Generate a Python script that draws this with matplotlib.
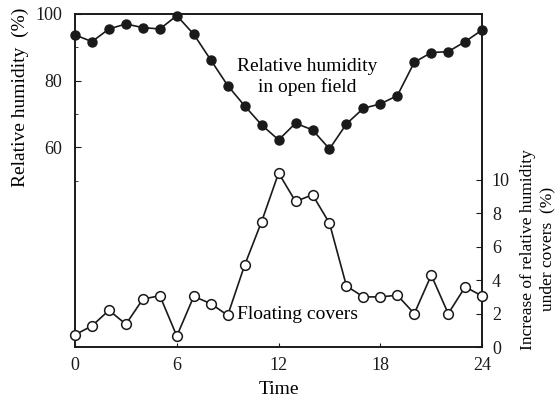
import matplotlib
matplotlib.use("Agg")
import matplotlib.pyplot as plt
from matplotlib.ticker import FixedLocator

plt.rcParams['font.family'] = ['Liberation Serif', 'DejaVu Serif']

hours = list(range(25))
rh_open = [93.7, 91.7, 95.5, 97.0, 95.9, 95.5, 99.5, 93.9, 86.2, 78.5, 72.4, 66.7, 62.2,
           67.2, 65.2, 59.5, 67.0, 71.7, 73.0, 75.5, 85.5, 88.4, 88.7, 91.7, 95.2]
rh_increase = [0.74, 1.27, 2.2, 1.37, 2.87, 3.07, 0.66, 3.03, 2.6, 1.9, 4.9, 7.5, 10.4,
               8.7, 9.1, 7.4, 3.65, 3.0, 3.0, 3.1, 2.0, 4.3, 2.0, 3.6, 3.05]
x_ticks = [0, 6, 12, 18, 24]
left_ticks = [60, 80, 100]
right_ticks = [0, 2, 4, 6, 8, 10]

fs_tick = 13
fs_text = 14
fig = plt.figure(figsize=(5.6, 3.99), dpi=100)
ax = fig.add_axes([0.134, 0.130, 0.727, 0.835])
ax2 = ax.twinx()

ax.plot(hours, rh_open, '-', color='#1a1a1a', lw=1.2, marker='o', ms=6.5,
        mfc='#1a1a1a', mec='#1a1a1a', clip_on=False, zorder=3)
ax2.plot(hours, rh_increase, '-', color='#1a1a1a', lw=1.2, marker='o', ms=7,
         mfc='white', mec='#1a1a1a', mew=1.1, clip_on=False, zorder=3)

ax.set_xlim(0, 24)
ax.set_ylim(0, 100)
ax2.set_ylim(0, 19.9)

ax.xaxis.set_major_locator(FixedLocator(x_ticks))
ax.yaxis.set_major_locator(FixedLocator(left_ticks))
ax.yaxis.set_minor_locator(FixedLocator([50, 70, 90]))
ax2.yaxis.set_major_locator(FixedLocator(right_ticks))

for a in (ax, ax2):
    for s in a.spines.values():
        s.set_linewidth(1.2)
        s.set_color('#1a1a1a')
ax.tick_params(axis='both', which='both', direction='in', labelsize=fs_tick, colors='#1a1a1a')
ax.tick_params(axis='x', length=3, pad=7)
ax.tick_params(axis='y', which='major', length=4, pad=9)
ax.tick_params(axis='y', which='minor', length=2.5)
ax2.tick_params(axis='y', direction='in', length=4, labelsize=fs_tick, pad=7, colors='#1a1a1a')

ax.set_xlabel('Time', fontsize=fs_text, labelpad=5)

fig.text(0.036, 0.755, 'Relative humidity  (%)', rotation=90, fontsize=fs_text,
         ha='center', va='center')
fig.text(0.960, 0.375, 'Increase of relative humidity\nunder covers  (%)', rotation=90,
         fontsize=12.5, ha='center', va='center', linespacing=1.25)

ax.text(13.7, 81, 'Relative humidity\nin open field', fontsize=fs_text, ha='center',
        va='center', linespacing=1.2)
ax2.text(9.55, 1.95, 'Floating covers', fontsize=fs_text, ha='left', va='center')

fig.savefig('out.png', dpi=100, facecolor='white')
